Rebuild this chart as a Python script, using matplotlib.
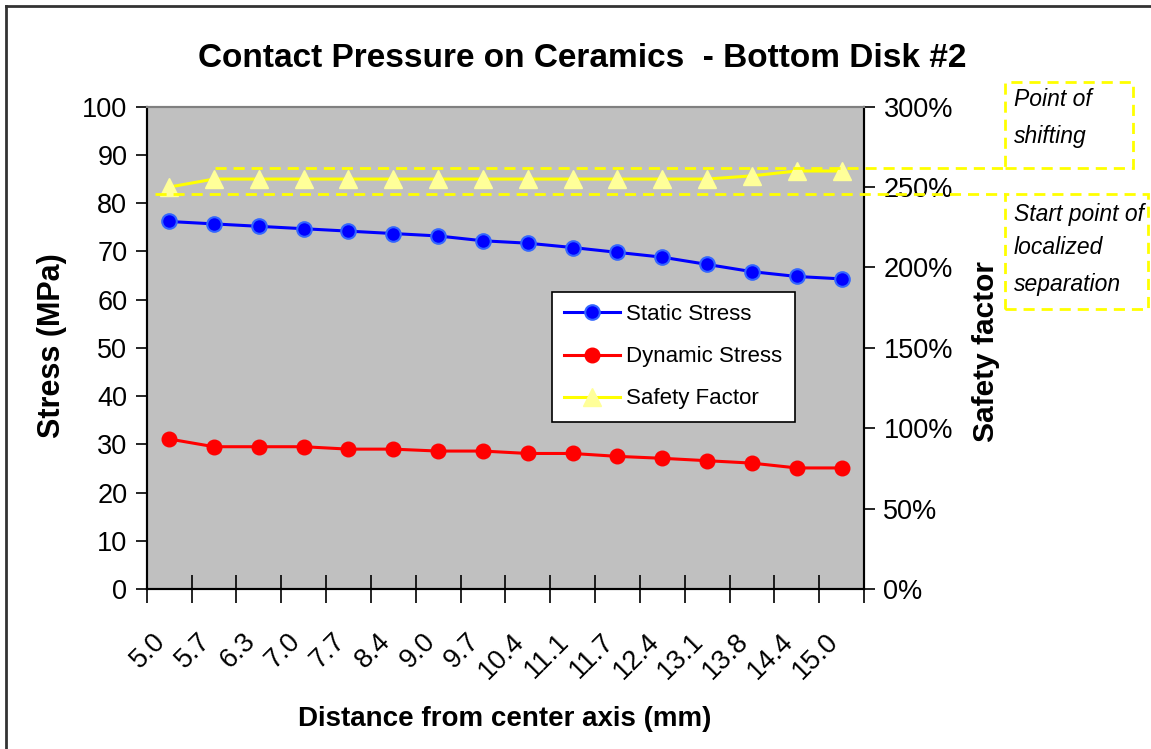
import numpy as np
import matplotlib
matplotlib.use("Agg")
import matplotlib.pyplot as plt
from matplotlib.lines import Line2D
from matplotlib.patches import Rectangle
from matplotlib.ticker import FixedLocator, FuncFormatter
import matplotlib.transforms as mtransforms

plt.rcParams['font.family'] = ['Liberation Sans', 'DejaVu Sans']

# distance from center axis (mm)
distance = ['5.0', '5.7', '6.3', '7.0', '7.7', '8.4', '9.0', '9.7', '10.4',
            '11.1', '11.7', '12.4', '13.1', '13.8', '14.4', '15.0']
# contact pressure (MPa)
static_stress = [76.2, 75.7, 75.2, 74.7, 74.2, 73.7, 73.2, 72.2, 71.7,
                 70.8, 69.8, 68.8, 67.3, 65.8, 64.8, 64.3]
dynamic_stress = [31.1, 29.5, 29.5, 29.5, 29.0, 29.0, 28.6, 28.6, 28.1,
                  28.1, 27.5, 27.1, 26.6, 26.1, 25.1, 25.1]
# safety factor (%)
safety_factor = [250, 255, 255, 255, 255, 255, 255, 255, 255,
                 255, 255, 255, 255, 257, 260, 260]

W, H = 1151, 749
fig = plt.figure(figsize=(W / 100, H / 100), dpi=100)


def px(x, y):
    # pixel position (from top-left) -> figure fraction
    return x / W, 1 - y / H


left, top = px(146.7, 106.7)
right, bottom = px(864, 589)
ax = fig.add_axes([left, bottom, right - left, top - bottom])
ax.set_facecolor('#C0C0C0')
ax2 = ax.twinx()

x = np.arange(len(distance))
l1, = ax.plot(x, static_stress, color='#0000FF', lw=2.2, marker='o', ms=10.5,
              mfc='#0000FF', mec='#3366FF', mew=1.5, label='Static Stress')
l2, = ax.plot(x, dynamic_stress, color='#FF0000', lw=2.2, marker='o', ms=10.5,
              mfc='#FF0000', mec='#FF0000', label='Dynamic Stress')
l3, = ax2.plot(x, safety_factor, color='#FFFF00', lw=2.2, marker='^', ms=13,
               mfc='#FFFF99', mec='#FFFF99', label='Safety Factor')

ax.set_xlim(-0.5, len(distance) - 0.5)
ax.set_ylim(0, 100)
ax2.set_ylim(0, 300)
ax.set_yticks(np.arange(0, 101, 10))
ax2.set_yticks(np.arange(0, 301, 50))
ax2.yaxis.set_major_formatter(FuncFormatter(lambda v, p: f'{v:.0f}%'))

# category boundaries get the tick marks, centers get the labels
ax.xaxis.set_major_locator(FixedLocator(np.arange(-0.5, len(distance), 1.0)))
ax.xaxis.set_minor_locator(FixedLocator(x))
ax.set_xticklabels([''] * (len(distance) + 1))
ax.set_xticklabels(distance, minor=True)
ax.tick_params(axis='x', which='major', direction='inout', length=20, width=1.2)
ax.tick_params(axis='x', which='minor', length=0, pad=35, labelsize=19.5)
shift = mtransforms.ScaledTranslation(-7 / 100, 0, fig.dpi_scale_trans)
for lab in ax.get_xticklabels(minor=True):
    lab.set_rotation(45)
    lab.set_ha('right')
    lab.set_va('center')
    lab.set_rotation_mode('anchor')
    lab.set_transform(lab.get_transform() + shift)

ax.tick_params(axis='y', direction='out', length=8, width=1.2, labelsize=19.5, pad=6)
ax2.tick_params(axis='y', direction='out', length=8, width=1.2, labelsize=19.5, pad=6)

for a in (ax, ax2):
    for s in ('left', 'right', 'bottom'):
        a.spines[s].set_color('black')
        a.spines[s].set_linewidth(1.5)
    a.spines['top'].set_color('#808080')
    a.spines['top'].set_linewidth(1.5)

ax.set_ylabel('Stress (MPa)', fontsize=22, fontweight='bold')
ax.yaxis.set_label_coords((67 - 146.7) / 717.3, (589 - 346) / 482.3)
ax2.set_ylabel('Safety factor', fontsize=21.5, fontweight='bold')
ax2.yaxis.set_label_coords((972 - 146.7) / 717.3, (589 - 351) / 482.3)
ax.set_xlabel('Distance from center axis (mm)', fontsize=20, fontweight='bold')
ax.xaxis.set_label_coords((505 - 146.7) / 717.3, (589 - 706) / 482.3)

fig.text(*px(582, 67), 'Contact Pressure on Ceramics  - Bottom Disk #2',
         ha='center', va='baseline', fontsize=24, fontweight='bold')

lx, ly = px(552, 292)
leg = ax2.legend(handles=[l1, l2, l3], loc='upper left', bbox_to_anchor=(lx, ly),
                 bbox_transform=fig.transFigure, fontsize=16, frameon=True,
                 fancybox=False, edgecolor='black', facecolor='white',
                 framealpha=1, handlelength=2.5, labelspacing=0.95,
                 borderpad=0.55, handletextpad=0.3, borderaxespad=0)
leg.get_frame().set_linewidth(1.2)

# dashed guide lines and note boxes
dash = dict(color='#FFFF00', lw=2, linestyle=(0, (4, 2.5)))
for x0, x1, yy in [(215, 1005, 168), (155, 1005, 194)]:
    fig.add_artist(Line2D([px(x0, yy)[0], px(x1, yy)[0]],
                          [px(x0, yy)[1], px(x1, yy)[1]],
                          transform=fig.transFigure, **dash))
for bx0, by0, bx1, by1 in [(1005, 82, 1133, 168), (1005, 194, 1148, 309)]:
    x0f, y1f = px(bx0, by0)
    x1f, y0f = px(bx1, by1)
    fig.add_artist(Rectangle((x0f, y0f), x1f - x0f, y1f - y0f, fill=False,
                             transform=fig.transFigure, edgecolor='#FFFF00',
                             lw=2, linestyle=(0, (4, 2.5))))

fig.text(*px(1014, 100), 'Point of', style='italic', fontsize=16.5, va='center')
fig.text(*px(1014, 136), 'shifting', style='italic', fontsize=16.5, va='center')
fig.text(*px(1014, 214), 'Start point of', style='italic', fontsize=16.5, va='center')
fig.text(*px(1014, 248), 'localized', style='italic', fontsize=16.5, va='center')
fig.text(*px(1014, 284), 'separation', style='italic', fontsize=16.5, va='center')

# outer chart frame
fig.add_artist(Line2D([px(6, 6)[0], 1], [px(6, 6)[1]] * 2,
                      transform=fig.transFigure, color='#333333', lw=2))
fig.add_artist(Line2D([px(6, 6)[0]] * 2, [px(6, 6)[1], 0],
                      transform=fig.transFigure, color='#333333', lw=2))

fig.savefig('out.png', dpi=100)
